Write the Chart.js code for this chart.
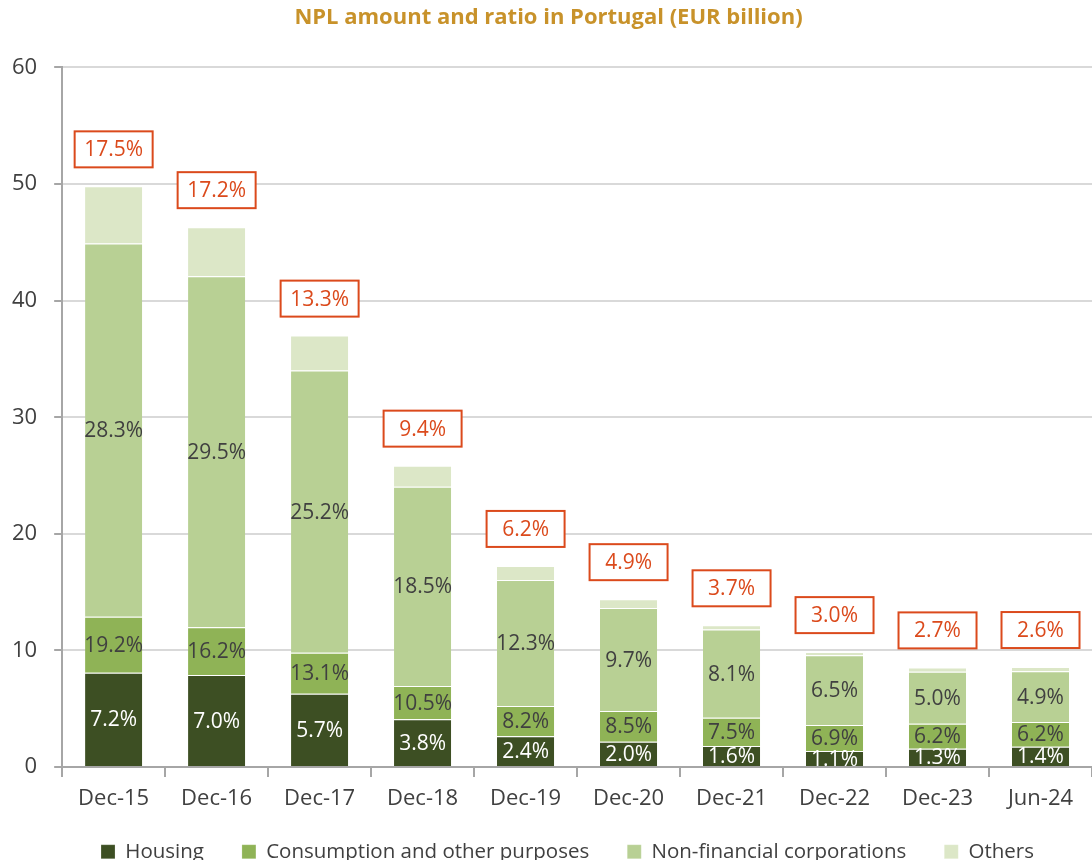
<!DOCTYPE html>
<html>
<head>
<meta charset="utf-8">
<script src="https://cdn.jsdelivr.net/npm/chart.js@4.4.1/dist/chart.umd.min.js"></script>
<style>
  html, body { margin: 0; padding: 0; background: #fff; overflow: hidden; height: 860px; }
  #wrap { width: 1092px; height: 888px; }
</style>
</head>
<body>
<div id="wrap"><canvas id="chartNpl"></canvas></div>
<script>
const periods = ["Dec-15", "Dec-16", "Dec-17", "Dec-18", "Dec-19", "Dec-20", "Dec-21", "Dec-22", "Dec-23", "Jun-24"];

// NPL amounts, EUR billion
const housing = [8.1, 7.9, 6.3, 4.1, 2.65, 2.17, 1.8, 1.37, 1.57, 1.74];
const consumption = [4.8, 4.1, 3.5, 2.85, 2.6, 2.63, 2.43, 2.23, 2.15, 2.12];
const corporations = [32.0, 30.1, 24.2, 17.1, 10.8, 8.85, 7.56, 6.0, 4.46, 4.35];
const others = [4.9, 4.2, 3.0, 1.8, 1.2, 0.75, 0.37, 0.26, 0.37, 0.37];

// NPL ratios shown as labels
const housingRatio = ["7.2%", "7.0%", "5.7%", "3.8%", "2.4%", "2.0%", "1.6%", "1.1%", "1.3%", "1.4%"];
const consumptionRatio = ["19.2%", "16.2%", "13.1%", "10.5%", "8.2%", "8.5%", "7.5%", "6.9%", "6.2%", "6.2%"];
const corporationsRatio = ["28.3%", "29.5%", "25.2%", "18.5%", "12.3%", "9.7%", "8.1%", "6.5%", "5.0%", "4.9%"];
const totalRatio = ["17.5%", "17.2%", "13.3%", "9.4%", "6.2%", "4.9%", "3.7%", "3.0%", "2.7%", "2.6%"];

const FONT = "'Open Sans', sans-serif";
const TEXT = "#404040";
const RED = "#DB4A1C";

const segmentLabels = [housingRatio, consumptionRatio, corporationsRatio, null];
const segmentColors = ["#ffffff", TEXT, TEXT, null];

const labelPlugin = {
  id: "ratioLabels",
  afterDatasetsDraw(chart) {
    const ctx = chart.ctx;
    ctx.save();
    ctx.font = "21px " + FONT;
    ctx.textAlign = "center";
    ctx.textBaseline = "middle";
    segmentLabels.forEach(function (labels, di) {
      if (!labels) return;
      const meta = chart.getDatasetMeta(di);
      meta.data.forEach(function (bar, i) {
        const p = bar.getProps(["x", "y", "base"], true);
        ctx.fillStyle = segmentColors[di];
        ctx.fillText(labels[i], p.x, (p.y + p.base) / 2 + 1);
      });
    });

    // total ratio boxes above the stacks
    const topMeta = chart.getDatasetMeta(3);
    topMeta.data.forEach(function (bar, i) {
      const p = bar.getProps(["x", "y"], true);
      const w = 78, h = 36;
      const bottom = p.y - 19;
      ctx.fillStyle = "#ffffff";
      ctx.fillRect(p.x - w / 2, bottom - h, w, h);
      ctx.strokeStyle = RED;
      ctx.lineWidth = 2;
      ctx.strokeRect(p.x - w / 2, bottom - h, w, h);
      ctx.fillStyle = RED;
      ctx.fillText(totalRatio[i], p.x, bottom - h / 2 + 1);
    });
    ctx.restore();
  }
};

// nudge the legend up and right after layout
const legendShift = {
  id: "legendShift",
  afterLayout(chart) {
    const lg = chart.legend;
    lg.top -= 16; lg.bottom -= 16;
    lg.left += 19; lg.right += 19;
  }
};

const configNpl = {
  type: "bar",
  data: {
    labels: periods,
    datasets: [
      { label: "Housing", data: housing, backgroundColor: "rgb(61, 79, 35)" },
      { label: "Consumption and other purposes", data: consumption, backgroundColor: "rgb(143, 179, 86)" },
      { label: "Non-financial corporations", data: corporations, backgroundColor: "rgb(184, 208, 148)" },
      { label: "Others", data: others, backgroundColor: "rgb(220, 231, 199)" }
    ].map(function (d) {
      return Object.assign(d, {
        borderColor: "rgba(255,255,255,0.8)",
        borderWidth: { top: 1, bottom: 0, left: 0, right: 0 },
        borderSkipped: false,
        categoryPercentage: 1,
        barPercentage: 0.555
      });
    })
  },
  options: {
    responsive: true,
    maintainAspectRatio: false,
    animation: false,
    layout: { padding: { left: -5, right: -10, top: 0, bottom: 0 } },
    plugins: {
      title: {
        display: true,
        text: "NPL amount and ratio in Portugal (EUR billion)",
        color: "#C8922A",
        font: { family: FONT, size: 22, weight: "bold" },
        padding: { top: 5, bottom: 36 }
      },
      legend: {
        position: "bottom",
        labels: {
          color: TEXT,
          font: { family: FONT, size: 20.5 },
          boxWidth: 14,
          boxHeight: 14,
          padding: 38
        }
      },
      tooltip: { enabled: false }
    },
    scales: {
      x: {
        stacked: true,
        grid: {
          display: true,
          offset: true,
          drawOnChartArea: false,
          drawTicks: true,
          tickLength: 10,
          color: "#A6A6A6",
          lineWidth: 2
        },
        border: { color: "#A6A6A6", width: 2 },
        ticks: { color: TEXT, font: { family: FONT, size: 22 }, padding: 8 }
      },
      y: {
        stacked: true,
        min: 0,
        max: 60,
        ticks: { stepSize: 10, color: TEXT, font: { family: FONT, size: 22 }, padding: 17 },
        grid: { color: "#D9D9D9", lineWidth: 2, tickLength: 8, tickColor: "#A6A6A6" },
        border: { color: "#A6A6A6", width: 2 }
      }
    }
  },
  plugins: [labelPlugin, legendShift]
};

const chartNpl = new Chart(document.getElementById("chartNpl"), configNpl);
</script>
</body>
</html>
